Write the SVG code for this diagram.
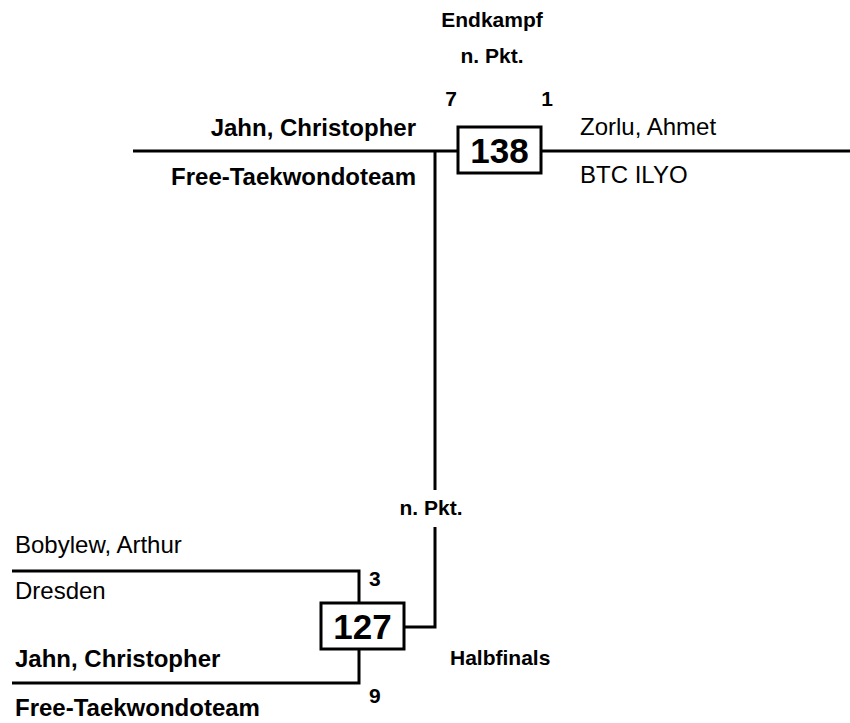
<svg xmlns="http://www.w3.org/2000/svg" width="850" height="723" viewBox="0 0 850 723">
<style>
.t{font-family:"Liberation Sans",Arial,sans-serif;fill:#000}
.b{font-weight:bold}
.n{font-size:24px}
.s{font-size:21px;font-weight:bold}
.num{font-size:35px;font-weight:bold}
.ln{fill:none;stroke:#000;stroke-width:3}
.box{fill:#fff;stroke:#000;stroke-width:3}
</style>
<rect width="850" height="723" fill="#fff"/>
<g id="connectors">
<path class="ln" d="M133 151H458"/>
<path class="ln" d="M541 151H850"/>
<path class="ln" d="M435 151V490"/>
<path class="ln" d="M435 527V627H404"/>
<path class="ln" d="M12 571H359V602"/>
<path class="ln" d="M12 683H359V649"/>
</g>
<g id="labels">
<text class="t s" x="492" y="27" text-anchor="middle">Endkampf</text>
<text class="t s" x="492" y="63" text-anchor="middle">n. Pkt.</text>
<text class="t s" x="451" y="106" text-anchor="middle">7</text>
<text class="t s" x="547" y="106" text-anchor="middle">1</text>
<text class="t s" x="431" y="515" text-anchor="middle">n. Pkt.</text>
<text class="t s" x="450" y="665">Halbfinals</text>
</g>
<g id="node138">
<rect class="box" x="458" y="127" width="83" height="46"/>
<text class="t num" x="499.5" y="163" text-anchor="middle">138</text>
</g>
<g id="node127">
<rect class="box" x="321" y="603" width="83" height="46"/>
<text class="t num" x="362.5" y="639" text-anchor="middle">127</text>
<text class="t s" x="369" y="586">3</text>
<text class="t s" x="369" y="703">9</text>
</g>
<g id="jahn-top">
<text class="t n b" x="416" y="136" text-anchor="end">Jahn, Christopher</text>
<text class="t n b" x="416" y="185" text-anchor="end">Free-Taekwondoteam</text>
</g>
<g id="zorlu">
<text class="t n" x="580" y="135">Zorlu, Ahmet</text>
<text class="t n" x="580" y="183">BTC ILYO</text>
</g>
<g id="bobylew">
<text class="t n" x="15" y="553">Bobylew, Arthur</text>
<text class="t n" x="15" y="599">Dresden</text>
</g>
<g id="jahn-bottom">
<text class="t n b" x="15" y="667">Jahn, Christopher</text>
<text class="t n b" x="15" y="716">Free-Taekwondoteam</text>
</g>
</svg>
